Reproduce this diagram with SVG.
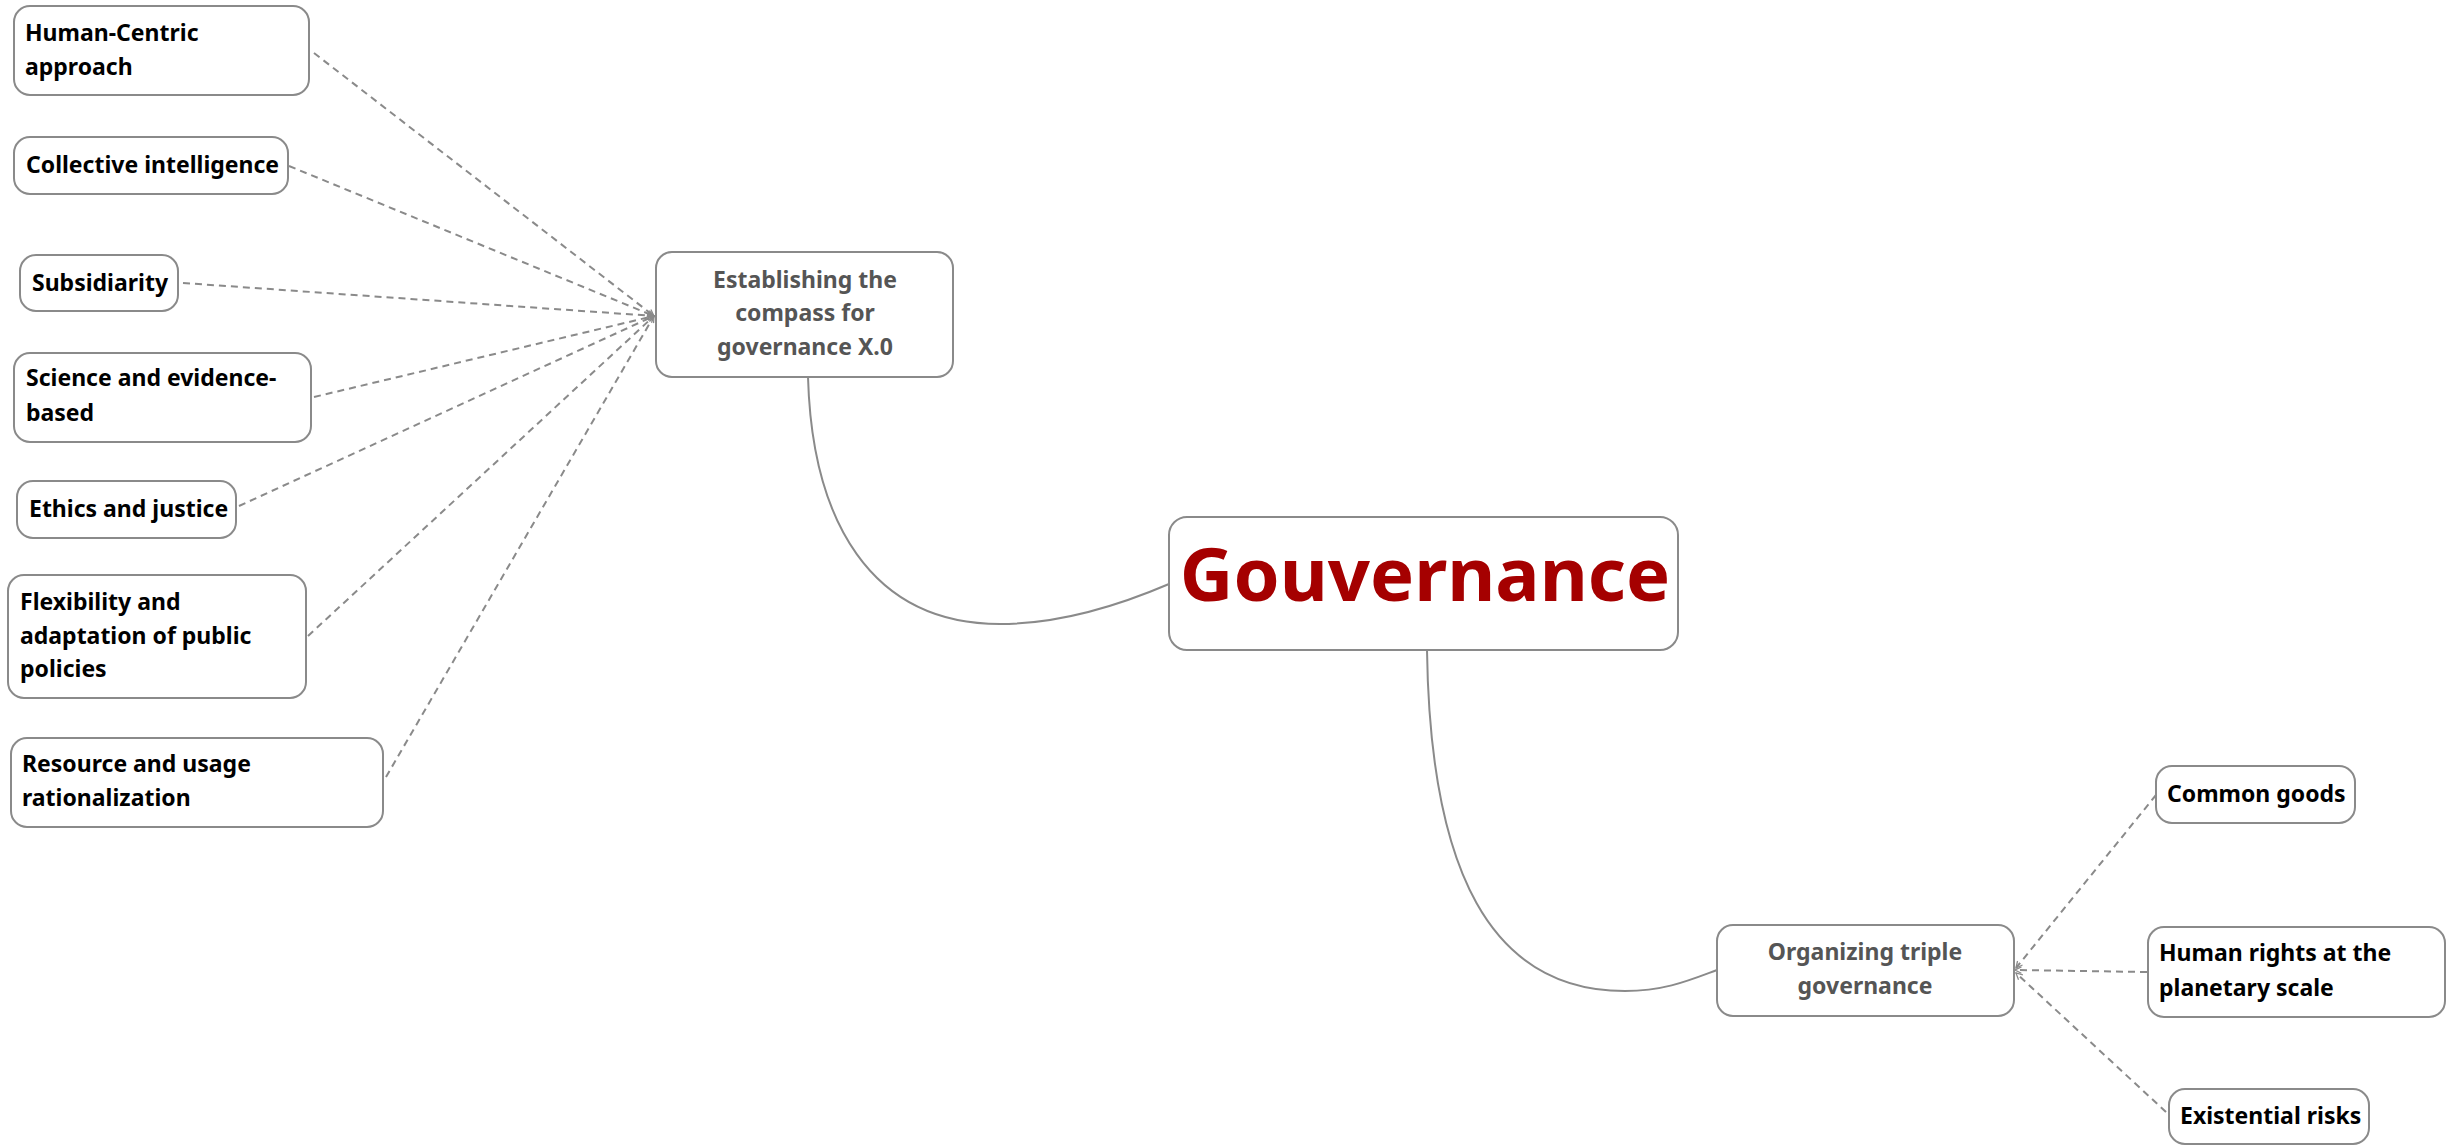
<svg xmlns="http://www.w3.org/2000/svg" width="2450" height="1145" viewBox="0 0 2450 1145">
<style>
.box{fill:#fff;stroke:#8a8a8a;stroke-width:2}
.leaf{font-family:"Noto Sans","Open Sans",sans-serif;font-weight:bold;font-size:23px;fill:#000}
.mid{font-family:"Noto Sans","Open Sans",sans-serif;font-weight:bold;font-size:23px;fill:#555;text-anchor:middle}
.root{font-family:"Noto Sans","Open Sans",sans-serif;font-weight:bold;font-size:74px;fill:#a50000;text-anchor:middle}
.dash{fill:none;stroke:#8a8a8a;stroke-width:2;stroke-dasharray:7 5}
.solid{fill:none;stroke:#8a8a8a;stroke-width:2}
</style>
<defs>
<marker id="arr" viewBox="0 0 10 10" refX="9" refY="5" markerWidth="8" markerHeight="8" orient="auto" markerUnits="userSpaceOnUse">
<path d="M1,1 L9,5 L1,9" fill="none" stroke="#8a8a8a" stroke-width="1.6"/>
</marker>
</defs>
<rect width="2450" height="1145" fill="#fff"/>
<g id="connectors">
<path class="solid" d="M808,377 C812,520 870,624 1000,624 C1060,624 1120,605 1169,584"/>
<path class="solid" d="M1427,650 C1430,870 1490,991 1625,991 C1665,991 1690,980 1717,970"/>
<line class="dash" x1="314" y1="53" x2="654" y2="316" marker-end="url(#arr)"/>
<line class="dash" x1="289" y1="166" x2="654" y2="316" marker-end="url(#arr)"/>
<line class="dash" x1="183" y1="283" x2="654" y2="316" marker-end="url(#arr)"/>
<line class="dash" x1="314" y1="397" x2="654" y2="316" marker-end="url(#arr)"/>
<line class="dash" x1="239" y1="506" x2="654" y2="316" marker-end="url(#arr)"/>
<line class="dash" x1="308" y1="636" x2="654" y2="316" marker-end="url(#arr)"/>
<line class="dash" x1="386" y1="777" x2="654" y2="316" marker-end="url(#arr)"/>
<line class="dash" x1="2156" y1="795" x2="2016" y2="968" marker-end="url(#arr)"/>
<line class="dash" x1="2147" y1="972" x2="2015" y2="970" marker-end="url(#arr)"/>
<line class="dash" x1="2166" y1="1112" x2="2016" y2="973" marker-end="url(#arr)"/>
</g>
<g id="n-human-centric"><rect class="box" x="14" y="6" width="295" height="89" rx="16"/><text class="leaf" x="25" y="41">Human-Centric</text><text class="leaf" x="25" y="75">approach</text></g>
<g id="n-collective"><rect class="box" x="14" y="137" width="274" height="57" rx="16"/><text class="leaf" x="26" y="173">Collective intelligence</text></g>
<g id="n-subsidiarity"><rect class="box" x="20" y="255" width="158" height="56" rx="16"/><text class="leaf" x="32" y="291">Subsidiarity</text></g>
<g id="n-science"><rect class="box" x="14" y="353" width="297" height="89" rx="16"/><text class="leaf" x="26" y="386">Science and evidence-</text><text class="leaf" x="26" y="421">based</text></g>
<g id="n-ethics"><rect class="box" x="17" y="481" width="219" height="57" rx="16"/><text class="leaf" x="29" y="517">Ethics and justice</text></g>
<g id="n-flexibility"><rect class="box" x="8" y="575" width="298" height="123" rx="16"/><text class="leaf" x="20" y="610">Flexibility and</text><text class="leaf" x="20" y="644">adaptation of public</text><text class="leaf" x="20" y="677">policies</text></g>
<g id="n-resource"><rect class="box" x="11" y="738" width="372" height="89" rx="16"/><text class="leaf" x="22" y="772">Resource and usage</text><text class="leaf" x="22" y="806">rationalization</text></g>
<g id="n-establishing"><rect class="box" x="656" y="252" width="297" height="125" rx="16"/><text class="mid" x="805" y="288">Establishing the</text><text class="mid" x="805" y="321">compass for</text><text class="mid" x="805" y="355">governance X.0</text></g>
<g id="n-root"><rect class="box" x="1169" y="517" width="509" height="133" rx="18"/><text class="root" x="1425" y="601">Gouvernance</text></g>
<g id="n-organizing"><rect class="box" x="1717" y="925" width="297" height="91" rx="16"/><text class="mid" x="1865" y="960">Organizing triple</text><text class="mid" x="1865" y="994">governance</text></g>
<g id="n-common"><rect class="box" x="2156" y="766" width="199" height="57" rx="16"/><text class="leaf" x="2167" y="802">Common goods</text></g>
<g id="n-rights"><rect class="box" x="2148" y="927" width="297" height="90" rx="16"/><text class="leaf" x="2159" y="961">Human rights at the</text><text class="leaf" x="2159" y="996">planetary scale</text></g>
<g id="n-existential"><rect class="box" x="2169" y="1089" width="200" height="55" rx="16"/><text class="leaf" x="2180" y="1124">Existential risks</text></g>
</svg>
